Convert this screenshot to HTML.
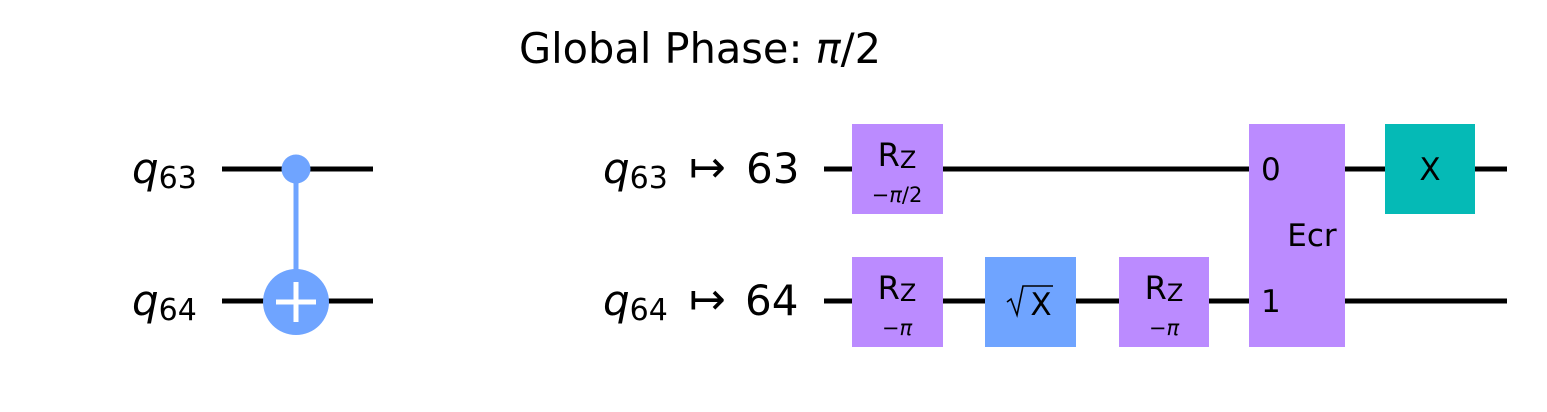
<!DOCTYPE html>
<html><head><meta charset="utf-8"><style>
body{margin:0;background:#fff}
svg{display:block;font-family:"DejaVu Sans","Liberation Sans",sans-serif}
</style></head><body>
<svg width="1547" height="412" viewBox="0 0 1547 412">
<rect width="1547" height="412" fill="#fff"/>
<text x="700" y="63" font-size="41.5" text-anchor="middle">Global Phase: <tspan font-style="italic">π</tspan>/2</text>

<g>
<text x="132" y="183" font-size="42" font-style="italic">q<tspan font-style="normal" font-size="30" dy="5">63</tspan></text>
<text x="132" y="315" font-size="42" font-style="italic">q<tspan font-style="normal" font-size="30" dy="5">64</tspan></text>
<line x1="222" y1="169" x2="373" y2="169" stroke="#000" stroke-width="5"/>
<line x1="222" y1="301" x2="373" y2="301" stroke="#000" stroke-width="5"/>
<line x1="296" y1="169" x2="296" y2="290" stroke="#6fa4ff" stroke-width="5"/>
<circle cx="296" cy="169" r="14.5" fill="#6fa4ff"/>
<circle cx="296" cy="302" r="33" fill="#6fa4ff"/>
<line x1="276" y1="302" x2="316" y2="302" stroke="#fff" stroke-width="5"/>
<line x1="296" y1="282" x2="296" y2="322" stroke="#fff" stroke-width="5"/>
</g>

<g>
<text x="603" y="183" font-size="42" font-style="italic">q<tspan font-style="normal" font-size="30" dy="5">63</tspan></text>
<text x="603" y="315" font-size="42" font-style="italic">q<tspan font-style="normal" font-size="30" dy="5">64</tspan></text>
<text x="689" y="182" font-size="44">↦</text>
<text x="689" y="314" font-size="44">↦</text>
<text x="746" y="183" font-size="42">63</text>
<text x="745" y="315" font-size="42">64</text>
<line x1="824" y1="169" x2="1507" y2="169" stroke="#000" stroke-width="5"/>
<line x1="824" y1="301" x2="1507" y2="301" stroke="#000" stroke-width="5"/>

<g>
<rect x="852" y="124" width="91" height="90" fill="#bb8bff"/>
<text x="897" y="166" font-size="32" text-anchor="middle">R<tspan font-size="24" dy="2">Z</tspan></text>
<text x="897" y="202" font-size="21" text-anchor="middle">−<tspan font-style="italic">π</tspan>/2</text>
</g>
<g>
<rect x="852" y="257" width="91" height="90" fill="#bb8bff"/>
<text x="897" y="299" font-size="32" text-anchor="middle">R<tspan font-size="24" dy="2">Z</tspan></text>
<text x="897" y="335" font-size="21" text-anchor="middle">−<tspan font-style="italic">π</tspan></text>
</g>
<g>
<rect x="985" y="257" width="91" height="90" fill="#6fa4ff"/>
<path d="M1007 302 l4 -3 l6 16 l6 -29 h30" fill="none" stroke="#000" stroke-width="1.6"/>
<text x="1041" y="315" font-size="31" text-anchor="middle">X</text>
</g>
<g>
<rect x="1119" y="257" width="90" height="90" fill="#bb8bff"/>
<text x="1164" y="299" font-size="32" text-anchor="middle">R<tspan font-size="24" dy="2">Z</tspan></text>
<text x="1164" y="335" font-size="21" text-anchor="middle">−<tspan font-style="italic">π</tspan></text>
</g>
<g>
<rect x="1249" y="124" width="96" height="223" fill="#bb8bff"/>
<text x="1261" y="180" font-size="31">0</text>
<text x="1261" y="312" font-size="31">1</text>
<text x="1312" y="246" font-size="31" text-anchor="middle">Ecr</text>
</g>
<g>
<rect x="1385" y="124" width="90" height="90" fill="#05bab6"/>
<text x="1430" y="180" font-size="31" text-anchor="middle">X</text>
</g>
</g>
</svg>
</body></html>
